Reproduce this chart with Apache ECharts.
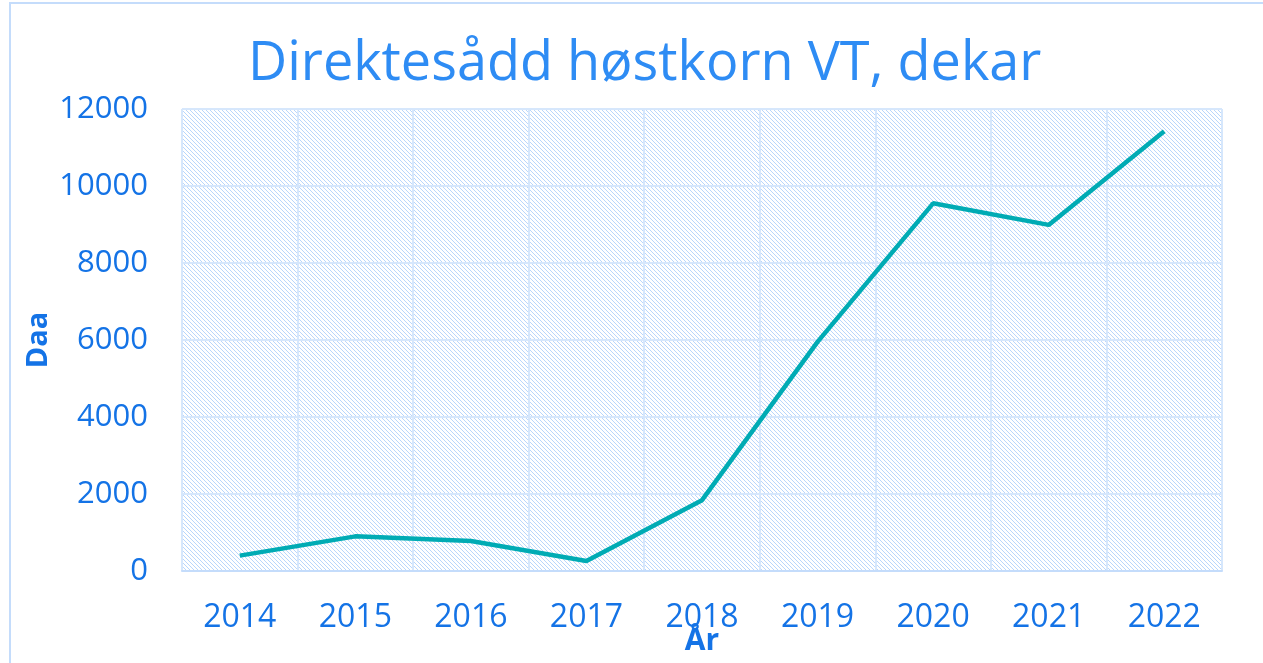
<!DOCTYPE html>
<html>
<head>
<meta charset="utf-8">
<script src="https://cdn.jsdelivr.net/npm/echarts@6/dist/echarts.min.js"></script>
<style>
  html, body { margin: 0; padding: 0; background: #fff; }
  #chart { width: 1263px; height: 663px; }
</style>
</head>
<body>
<div id="chart"></div>
<script>
  const years = ['2014', '2015', '2016', '2017', '2018', '2019', '2020', '2021', '2022']
  const dekar = [400, 900, 780, 260, 1840, 5950, 9550, 8990, 11420]

  // diagonal hatch used as plot area background
  function hatch() {
    const c = document.createElement('canvas')
    c.width = 4
    c.height = 4
    const ctx = c.getContext('2d')
    ctx.fillStyle = '#ffffff'
    ctx.fillRect(0, 0, 4, 4)
    ctx.fillStyle = '#b9d6fb'
    for (let i = 0; i < 4; i++) {
      ctx.fillRect(i, i, 1, 1)   // top-left to bottom-right
    }
    return c
  }

  const labelColor = '#1473e6'
  const chart = echarts.init(document.getElementById('chart'))
  chart.setOption({
    backgroundColor: '#fff',
    textStyle: { fontFamily: 'Open Sans' },
    graphic: [{
      type: 'rect',
      shape: { x: 10, y: 3, width: 1300, height: 700 },
      style: { fill: 'none', stroke: '#c4dcfb', lineWidth: 2 }
    }],
    title: {
      text: 'Direktesådd høstkorn VT, dekar',
      left: 243,
      top: 33,
      textStyle: {
        color: '#2e8cf4',
        fontSize: 54,
        fontWeight: 'normal',
        fontFamily: 'Open Sans'
      }
    },
    grid: {
      left: 182,
      right: 41,
      top: 109,
      bottom: 92,
      outerBoundsMode: 'none',
      containLabel: false,
      show: true,
      borderWidth: 0,
      backgroundColor: { image: hatch(), repeat: 'repeat' }
    },
    xAxis: {
      type: 'category',
      data: years,
      boundaryGap: true,
      name: 'År',
      nameLocation: 'middle',
      nameGap: 55,
      nameMoveOverlap: false,
      nameTextStyle: { color: labelColor, fontSize: 30, fontWeight: 'bold' },
      axisLine: { lineStyle: { color: '#c4dcfb', width: 2 } },
      axisTick: { show: false },
      axisLabel: { color: labelColor, fontSize: 32, margin: 31 },
      splitLine: { show: true, interval: 0, lineStyle: { color: '#d6e7fc', width: 2 } }
    },
    yAxis: {
      type: 'value',
      min: 0,
      max: 12000,
      interval: 2000,
      name: 'Daa',
      nameLocation: 'middle',
      nameGap: 129,
      nameMoveOverlap: false,
      nameTextStyle: { color: labelColor, fontSize: 29, fontWeight: 'bold' },
      axisLine: { show: false },
      axisTick: { show: false },
      axisLabel: { color: labelColor, fontSize: 31, margin: 34, formatter: v => String(v) },
      splitLine: { lineStyle: { color: '#d6e7fc', width: 2 } }
    },
    series: [{
      type: 'line',
      data: dekar,
      showSymbol: false,
      symbol: 'none',
      lineStyle: { color: '#00abb4', width: 4.5 },
      animation: false
    }],
    animation: false
  })
</script>
</body>
</html>
